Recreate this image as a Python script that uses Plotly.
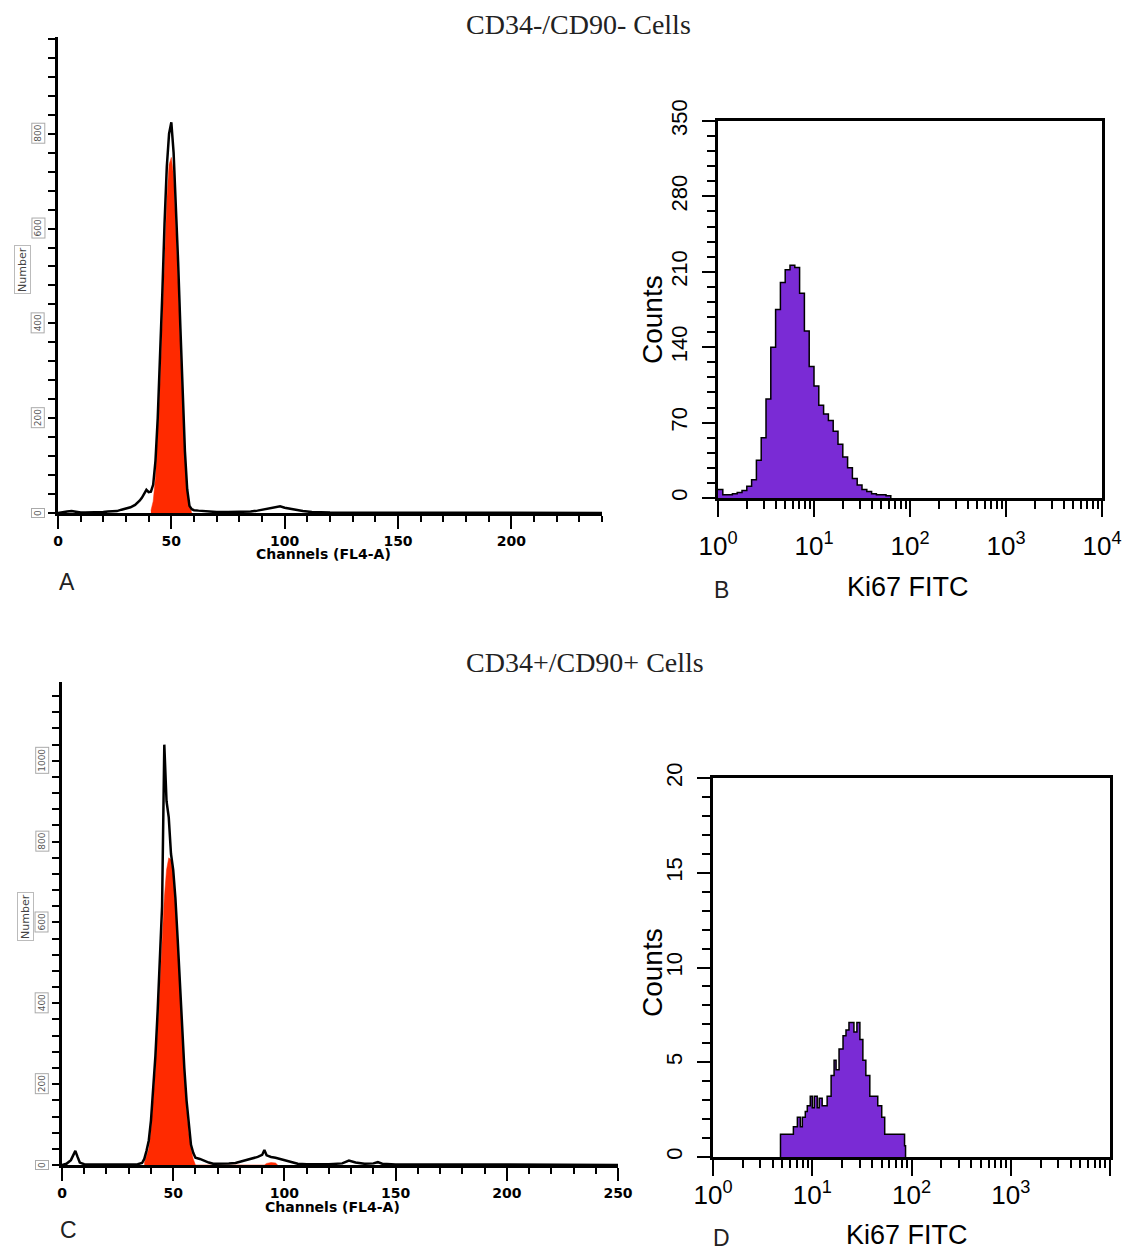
import plotly.graph_objects as go

W, H = 1124, 1251

# ---------------- Panel A (CD34-/CD90-, DNA content) ----------------
a_channel = [0, 2, 4, 6, 8, 10, 12, 14, 16, 18, 20, 22, 24, 26, 28, 30, 32, 34, 35, 36, 37, 38, 39, 40, 41,
             42, 43, 44, 45, 46, 47, 48, 49, 50, 51, 52, 53, 54, 55, 56, 57, 58, 59, 60, 62, 64, 66, 70, 75,
             80, 85, 88, 90, 92, 94, 96, 98, 100, 102, 104, 106, 108, 110, 112, 120, 130, 140, 160, 200, 240]
a_number = [0, 2, 3, 4, 2, 1, 1, 1, 2, 2, 2, 3, 3, 4, 7, 9, 12, 17, 21, 26, 32, 42, 49, 44, 45,
            60, 110, 200, 320, 460, 610, 730, 800, 824, 760, 660, 530, 390, 250, 130, 50, 15, 8, 6, 5, 4, 3, 2, 2,
            2, 3, 5, 7, 8, 10, 12, 14, 11, 9, 7, 6, 4, 3, 2, 1, 1, 1, 0, 0, 0]
a_fit_channel = [41, 42, 43, 44, 45, 46, 47, 48, 49, 50, 51, 52, 53, 54, 55, 56, 57, 58, 59]
a_fit_number = [5, 25, 75, 160, 270, 400, 540, 660, 735, 750, 710, 610, 480, 340, 220, 120, 50, 15, 0]

# ---------------- Panel C (CD34+/CD90+, DNA content) ----------------
c_channel = [0, 2, 4, 5, 6, 7, 8, 10, 14, 20, 30, 34, 36, 37, 38, 39, 40, 41, 42, 43, 44, 45, 46, 47, 48,
             49, 50, 51, 52, 53, 54, 55, 56, 57, 58, 59, 60, 62, 64, 66, 68, 70, 75, 78, 80, 82, 84, 86, 88,
             90, 91, 92, 94, 96, 98, 100, 102, 104, 106, 110, 120, 126, 129, 132, 136, 140, 142, 144, 150,
             200, 250]
c_number = [0, 3, 12, 25, 35, 20, 6, 2, 1, 1, 1, 2, 5, 15, 35, 60, 110, 180, 270, 380, 500, 640, 1040, 900, 860,
            770, 730, 660, 560, 450, 340, 240, 160, 95, 50, 30, 18, 15, 10, 6, 3, 3, 4, 5, 8, 11, 15, 18, 20,
            25, 37, 24, 20, 18, 15, 12, 8, 5, 3, 2, 2, 4, 11, 6, 3, 4, 7, 3, 1,
            1, 0]
c_fit_channel = [37, 38, 39, 40, 41, 42, 43, 44, 45, 46, 47, 48, 49, 50, 51, 52, 53, 54, 55, 56, 57, 58, 59, 60,
                 91, 92, 94, 96, 97]
c_fit_number = [5, 20, 40, 85, 150, 235, 340, 450, 560, 660, 730, 760, 755, 715, 640, 540, 430, 320, 220, 140,
                80, 40, 15, 0, 0, 4, 6, 5, 0]

# ---------------- Panel B (Ki67 FITC, CD34-/CD90-) ----------------
b_decade = [0.00, 0.05, 0.10, 0.15, 0.20, 0.25, 0.30, 0.35, 0.40, 0.45, 0.50, 0.55, 0.60, 0.65, 0.70, 0.75,
            0.80, 0.85, 0.90, 0.95, 1.00, 1.05, 1.10, 1.15, 1.20, 1.25, 1.30, 1.35, 1.40, 1.45, 1.50, 1.55,
            1.60, 1.65, 1.70, 1.75, 1.80]
b_counts = [8, 3, 3, 4, 5, 7, 11, 17, 35, 56, 92, 140, 175, 200, 212, 216, 214, 190, 155, 122, 104, 86, 78,
            72, 62, 50, 38, 28, 18, 12, 8, 6, 4, 3, 3, 2, 0]

# ---------------- Panel D (Ki67 FITC, CD34+/CD90+) ----------------
d_decade = [0.68, 0.68, 0.71, 0.75, 0.78, 0.81, 0.85, 0.88, 0.90, 0.93, 0.95, 0.98, 1.00, 1.02, 1.05, 1.07,
            1.10, 1.12, 1.15, 1.19, 1.22, 1.24, 1.27, 1.31, 1.34, 1.37, 1.41, 1.42, 1.45, 1.48, 1.51, 1.54,
            1.58, 1.63, 1.66, 1.70, 1.73, 1.93, 1.94]
d_counts = [0, 1.2, 1.2, 1.2, 1.2, 1.6, 2.1, 1.6, 2.1, 2.4, 2.7, 3.2, 2.6, 3.2, 2.6, 3.1, 2.7, 2.7, 3.2, 4.3,
            5.1, 4.6, 5.7, 6.4, 6.7, 7.1, 7.1, 6.6, 7.1, 6.2, 5.1, 4.3, 3.2, 3.2, 2.7, 2.1, 1.2, 0.6, 0]

# ---------------- Tick labels ----------------
a_ytick_vals = [0, 200, 400, 600, 800]
c_ytick_vals = [0, 200, 400, 600, 800, 1000]
a_xtick_vals = [0, 50, 100, 150, 200]
c_xtick_vals = [0, 50, 100, 150, 200, 250]
b_ytick_vals = [0, 70, 140, 210, 280, 350]
d_ytick_vals = [0, 5, 10, 15, 20]
log_decades = [0, 1, 2, 3, 4]

RED = "#FF2A00"
PURPLE = "#7A2BD5"
SANS = "Liberation Sans, Arial, sans-serif"


def px(x):
    return x / W


def py(y):
    return 1 - y / H


fig = go.Figure()

# Panel A traces
fig.add_trace(go.Scatter(x=a_fit_channel, y=a_fit_number, mode="lines", fill="tozeroy",
                         fillcolor=RED, line=dict(color=RED, width=0.5), xaxis="x", yaxis="y"))
fig.add_trace(go.Scatter(x=a_channel, y=a_number, mode="lines",
                         line=dict(color="black", width=2.5), xaxis="x", yaxis="y"))
# Panel C traces
fig.add_trace(go.Scatter(x=c_fit_channel, y=c_fit_number, mode="lines", fill="tozeroy",
                         fillcolor=RED, line=dict(color=RED, width=0.5), xaxis="x3", yaxis="y3"))
fig.add_trace(go.Scatter(x=c_channel, y=c_number, mode="lines",
                         line=dict(color="black", width=2.5), xaxis="x3", yaxis="y3"))
# Panel B
fig.add_trace(go.Scatter(x=[10 ** v for v in b_decade], y=b_counts, mode="lines", line_shape="hv",
                         fill="tozeroy", fillcolor=PURPLE, line=dict(color="black", width=1.5),
                         xaxis="x2", yaxis="y2"))
# Panel D
fig.add_trace(go.Scatter(x=[10 ** v for v in d_decade], y=d_counts, mode="lines", line_shape="hv",
                         fill="tozeroy", fillcolor=PURPLE, line=dict(color="black", width=1.5),
                         xaxis="x4", yaxis="y4"))

lin_x_common = dict(showline=True, linecolor="black", linewidth=2.5, ticks="outside", ticklen=13,
                    tickwidth=2, tickcolor="black", showgrid=False, zeroline=False, automargin=False,
                    tickfont=dict(family="DejaVu Sans", size=14, color="black", weight="bold"),
                    minor=dict(dtick=10, ticklen=6, tickwidth=2, tickcolor="black", ticks="outside"))
lin_y_common = dict(showline=True, linecolor="black", linewidth=2.5, ticks="outside", ticklen=7,
                    tickwidth=2, tickcolor="black", showgrid=False, zeroline=False, showticklabels=False,
                    automargin=False,
                    minor=dict(dtick=40, ticklen=7, tickwidth=2, tickcolor="black", ticks="outside"))

minor_log = [m * 10 ** k for k in range(4) for m in range(2, 10)]
log_x_common = dict(type="log", range=[0, 4], showline=True, mirror=True, linecolor="black", linewidth=2.5,
                    ticks="outside", ticklen=16, tickwidth=2, tickcolor="black", showgrid=False,
                    zeroline=False, tickmode="array", tickvals=[10 ** k for k in log_decades],
                    ticktext=[f"10<sup>{k}</sup>" for k in log_decades], automargin=False,
                    tickfont=dict(family=SANS, size=26, color="black"),
                    minor=dict(tickvals=minor_log, ticklen=8, tickwidth=2, tickcolor="black", ticks="outside"))
log_y_common = dict(showline=True, mirror=True, linecolor="black", linewidth=2.5, ticks="outside", ticklen=13,
                    tickwidth=2, tickcolor="black", showgrid=False, zeroline=False, tickangle=-90,
                    automargin=False,
                    tickfont=dict(family=SANS, size=22, color="black"), ticklabelstandoff=6)

fig.update_layout(
    width=W, height=H, margin=dict(l=0, r=0, t=0, b=0, autoexpand=False), showlegend=False,
    paper_bgcolor="white", plot_bgcolor="white",
    xaxis=dict(domain=[px(58), px(602)], range=[0, 240], anchor="y", tickmode="array",
               tickvals=a_xtick_vals, **lin_x_common),
    yaxis=dict(domain=[py(513), py(37)], range=[0, 1004], anchor="x", dtick=200, **lin_y_common),
    xaxis3=dict(domain=[px(62), px(618)], range=[0, 250], anchor="y3", tickmode="array",
                tickvals=c_xtick_vals, **lin_x_common),
    yaxis3=dict(domain=[py(1165), py(682)], range=[0, 1195], anchor="x3", dtick=200, **lin_y_common),
    xaxis2=dict(domain=[px(718), px(1102)], anchor="y2", ticklabelstandoff=7, **log_x_common),
    yaxis2=dict(domain=[py(498), py(121)], range=[0, 350], anchor="x2", tickmode="array",
                tickvals=b_ytick_vals, minor=dict(dtick=14, ticklen=8, tickwidth=2, tickcolor="black",
                                                  ticks="outside"), **log_y_common),
    xaxis4=dict(domain=[px(713), px(1110)], anchor="y4", ticklabelstandoff=-3, **log_x_common),
    yaxis4=dict(domain=[py(1157), py(778)], range=[0, 20], anchor="x4", tickmode="array",
                tickvals=d_ytick_vals, minor=dict(dtick=1, ticklen=8, tickwidth=2, tickcolor="black",
                                                  ticks="outside"), **log_y_common),
)

ann = []
C = dict(xanchor="center", yanchor="middle", showarrow=False)
SERIF = "Liberation Serif, Times New Roman, serif"
# Titles
ann.append(dict(text="CD34-/CD90- Cells", x=px(578), y=py(25), xref="paper", yref="paper",
                font=dict(family=SERIF, size=28, color="#222"), **C))
ann.append(dict(text="CD34+/CD90+ Cells", x=px(585), y=py(662), xref="paper", yref="paper",
                font=dict(family=SERIF, size=28, color="#222"), **C))
# Panel letters
for letter, lx, ly in [("A", 67, 582), ("B", 721, 590), ("C", 68, 1230), ("D", 721, 1238)]:
    ann.append(dict(text=letter, x=px(lx), y=py(ly), xref="paper", yref="paper",
                    font=dict(family=SANS, size=23, color="#222"), **C))
# Channels titles
for cx, cy in [(323, 554), (332, 1207)]:
    ann.append(dict(text="Channels (FL4-A)", x=px(cx), y=py(cy), xref="paper", yref="paper",
                    font=dict(family="DejaVu Sans", size=14, color="black", weight="bold"), **C))
# Number titles
for nx, ny in [(22, 270), (25, 917)]:
    ann.append(dict(text="Number", x=px(nx), y=py(ny), xref="paper", yref="paper",
                    textangle=-90, font=dict(family="DejaVu Sans", size=11, color="#444"),
                    bordercolor="#bbbbbb", borderwidth=1, borderpad=1, **C))
# Boxed y tick labels for A and C
for v in a_ytick_vals:
    ann.append(dict(text=str(v), x=px(38), y=v, xref="paper", yref="y", textangle=-90,
                    font=dict(family="DejaVu Sans", size=9, color="#555"),
                    bordercolor="#aaaaaa", borderwidth=1, borderpad=1, **C))
for v in c_ytick_vals:
    ann.append(dict(text=str(v), x=px(42), y=v, xref="paper", yref="y3", textangle=-90,
                    font=dict(family="DejaVu Sans", size=9, color="#555"),
                    bordercolor="#aaaaaa", borderwidth=1, borderpad=1, **C))
# Counts titles
for cx, cy in [(652, 320), (652, 973)]:
    ann.append(dict(text="Counts", x=px(cx), y=py(cy), xref="paper", yref="paper",
                    textangle=-90, font=dict(family=SANS, size=28, color="black"), **C))
# Ki67 FITC titles
for kx, ky in [(908, 587), (907, 1235)]:
    ann.append(dict(text="Ki67 FITC", x=px(kx), y=py(ky), xref="paper", yref="paper",
                    font=dict(family=SANS, size=27, color="black"), **C))

fig.update_layout(annotations=ann)

fig.write_html("out.html", config={"displayModeBar": False},
               post_script="document.body.style.margin='0px';document.body.style.overflow='hidden';")
